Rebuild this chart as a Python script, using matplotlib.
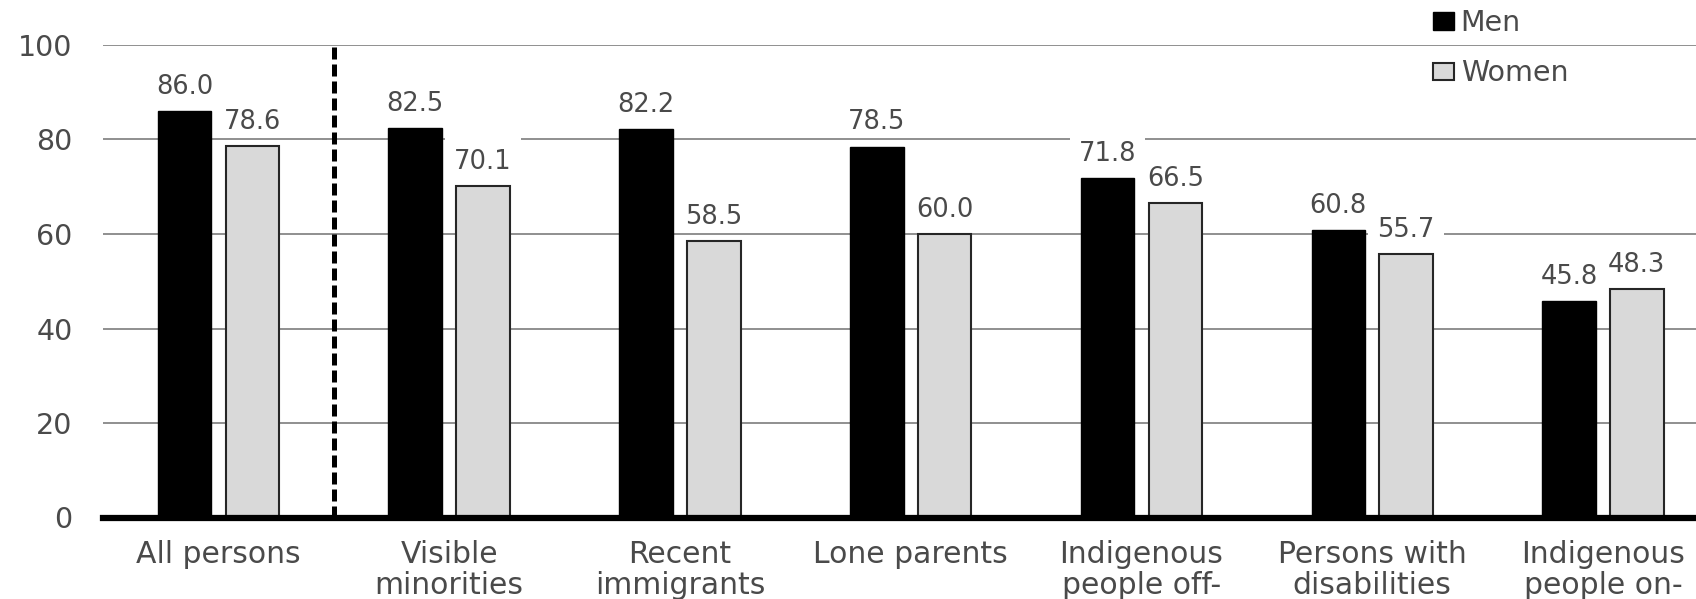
import numpy as np
import matplotlib.pyplot as plt
from matplotlib.patches import Patch
from matplotlib.path import Path

categories = ["All persons", "Visible\nminorities", "Recent\nimmigrants", "Lone parents",
              "Indigenous\npeople off-", "Persons with\ndisabilities",
              "Indigenous\npeople on-"]
men = [86.0, 82.5, 82.2, 78.5, 71.8, 60.8, 45.8]
women = [78.6, 70.1, 58.5, 60.0, 66.5, 55.7, 48.3]
yticks = [0, 20, 40, 60, 80, 100]

TEXT = "#4a4a4a"
plt.rcParams["font.family"] = ["DejaVu Sans"]


def label_box(x0, y0, width, height, mutation_size):
    # white box behind value labels, taller above the digits than below
    l = x0 - 0.35 * mutation_size
    r = x0 + width + 0.35 * mutation_size
    b = y0 - 0.05 * mutation_size
    t = y0 + height + 0.45 * mutation_size
    return Path([(l, b), (r, b), (r, t), (l, t), (l, b)], closed=True)


fig = plt.figure(figsize=(16.96, 5.99), dpi=100)
ax = fig.add_axes([103 / 1696, 1 - 517.5 / 599, 1 - 103 / 1696, 472.5 / 599])

x = np.arange(len(categories))
off = 0.147
w = 0.232
ax.bar(x - off, men, w, color="black", edgecolor="black", linewidth=1, zorder=4, label="Men")
ax.bar(x + off, women, w, color="#d9d9d9", edgecolor="#262626", linewidth=1.5, zorder=4, label="Women")

for xs, vals in ((x - off, men), (x + off, women)):
    for xi, v in zip(xs, vals):
        ax.annotate(f"{v:.1f}", (xi, v), xytext=(0, 8), textcoords="offset points",
                    ha="center", va="bottom", fontsize=18.5, color=TEXT, zorder=3,
                    bbox=dict(boxstyle=label_box, fc="white", ec="none"))

ax.set_xlim(-0.5, (1696 - 218.5) / 230.75)
ax.set_ylim(0, 100)
ax.set_yticks(yticks)
ax.set_xticks(x)
ax.set_xticklabels(categories, linespacing=1.1)
ax.tick_params(axis="x", length=0, pad=16, labelsize=21.5, labelcolor=TEXT)
ax.tick_params(axis="y", length=0, pad=22, labelsize=20.5, labelcolor=TEXT)

ax.grid(axis="y", color="#8f8f8f", linewidth=1.4)
ax.set_axisbelow(True)
for s in ax.spines.values():
    s.set_visible(False)

ax.axhline(0, color="black", linewidth=4.5, zorder=5, clip_on=False)
ax.plot([0.5, 0.5], [0, 100.7], color="black", linewidth=3.6, dashes=(2.4, 1.0),
        zorder=5, clip_on=False)

handles = [Patch(facecolor="black", edgecolor="black", linewidth=1),
           Patch(facecolor="#d9d9d9", edgecolor="#262626", linewidth=1.5)]
fig.legend(handles, ["Men", "Women"], loc="upper left",
           bbox_to_anchor=(1433 / 1696, 1 - 9 / 599), frameon=False,
           fontsize=20.5, labelcolor=TEXT, handlelength=0.72, handleheight=0.55,
           handletextpad=0.25, labelspacing=0.78, borderpad=0, borderaxespad=0)

fig.savefig("out.png", dpi=100)
